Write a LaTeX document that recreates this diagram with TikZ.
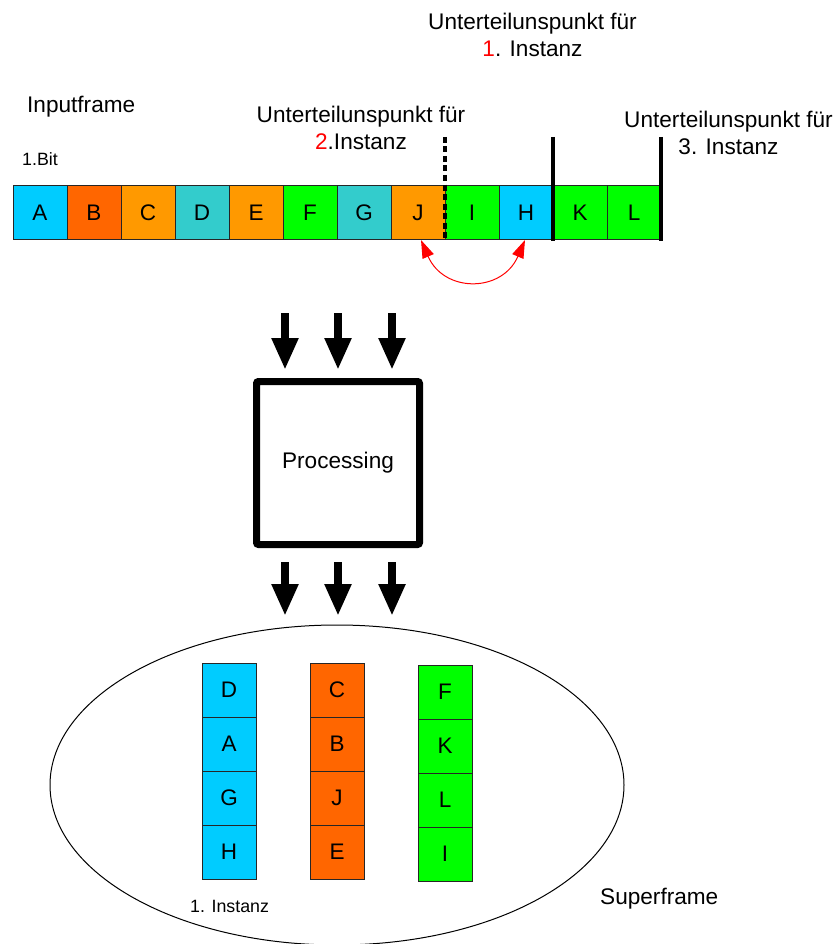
\documentclass[tikz,border=0pt]{standalone}
\usepackage{fontspec}
\setmainfont{Liberation Sans}
\usetikzlibrary{arrows.meta,shapes.geometric}
\definecolor{bitcyan}{HTML}{00CCFF}
\definecolor{bitred}{HTML}{FF6600}
\definecolor{bitorange}{HTML}{FF9900}
\definecolor{bitteal}{HTML}{33CCCC}
\definecolor{bitgreen}{HTML}{00FF00}
\begin{document}
\begin{tikzpicture}[x=1pt,y=-1pt,
  bit/.style={draw=black!85,line width=1pt,minimum width=54pt,minimum height=54pt,inner sep=0pt,font=\fontsize{22.5}{27}\selectfont},
  txt/.style={font=\fontsize{22.6}{27}\selectfont,align=center,inner sep=0pt},
  small/.style={font=\fontsize{17.8}{20}\selectfont,inner sep=0pt},
  cut/.style={line width=3.5pt},
  fat/.style={line width=8pt,-{Triangle[width=25pt,length=32pt]}},
  swaparrow/.style={red,line width=1pt,{Triangle[width=12pt,length=18pt]}-{Triangle[width=12pt,length=18pt]}}]
\useasboundingbox (0,0) rectangle (837,944);
\coordinate (cut1t) at (445,137);
\coordinate (cut1b) at (445,241);
\coordinate (cut2t) at (553,137);
\coordinate (cut2b) at (553,241);
\coordinate (cut3t) at (661,137);
\coordinate (cut3b) at (661,241);
\coordinate (in1) at (285,313);
\coordinate (in2) at (338,313);
\coordinate (in3) at (392,313);
\coordinate (out1) at (285,616);
\coordinate (out2) at (338,616);
\coordinate (out3) at (392,616);
% input frame
\node[bit,fill=bitcyan] (inA) at (40,212.5) {A};
\node[bit,fill=bitred] (inB) at (94,212.5) {B};
\node[bit,fill=bitorange] (inC) at (148,212.5) {C};
\node[bit,fill=bitteal] (inD) at (202,212.5) {D};
\node[bit,fill=bitorange] (inE) at (256,212.5) {E};
\node[bit,fill=bitgreen] (inF) at (310,212.5) {F};
\node[bit,fill=bitteal] (inG) at (364,212.5) {G};
\node[bit,fill=bitorange] (inJ) at (418,212.5) {J};
\node[bit,fill=bitgreen] (inI) at (472,212.5) {I};
\node[bit,fill=bitcyan] (inH) at (526,212.5) {H};
\node[bit,fill=bitgreen] (inK) at (580,212.5) {K};
\node[bit,fill=bitgreen] (inL) at (634,212.5) {L};
\draw[cut,dash pattern=on 6pt off 3.5pt] (cut1t) -- (cut1b);
\draw[cut] (cut2t) -- (cut2b);
\draw[cut] (cut3t) -- (cut3b);
\draw[swaparrow] ([xshift=3pt]inJ.south) .. controls (444,293) and (502,293) .. ([xshift=-1pt]inH.south);
\node[txt,anchor=base west] (inputlbl) at (27,113) {Inputframe};
\node[small,anchor=base west] (bitlbl) at (22,166) {1.Bit};
\node[txt,anchor=south] (cut1lbl) at (532.5,57) {Unterteilunspunkt für\\\textcolor{red}{1}. Instanz};
\node[txt,anchor=south] (cut2lbl) at (361,150) {Unterteilunspunkt für\\\textcolor{red}{2}.Instanz};
\node[txt,anchor=south] (cut3lbl) at (728.5,155) {Unterteilunspunkt für\\3. Instanz};
% processing
\node[draw,line width=7pt,rounded corners=2pt,minimum width=163pt,minimum height=163pt,txt] (proc) at (338,463) {Processing};
\draw[fat,shorten >=8pt] (in1) -- (in1 |- proc.north);
\draw[fat,shorten >=8pt] (in2) -- (in2 |- proc.north);
\draw[fat,shorten >=8pt] (in3) -- (in3 |- proc.north);
\draw[fat,shorten <=14pt] (out1 |- proc.south) -- (out1);
\draw[fat,shorten <=14pt] (out2 |- proc.south) -- (out2);
\draw[fat,shorten <=14pt] (out3 |- proc.south) -- (out3);
% superframe
\node[draw,ellipse,line width=1pt,minimum width=574pt,minimum height=320pt] (super) at (337,785) {};
\node[bit,fill=bitcyan] (s1a) at (229,690) {D};
\node[bit,fill=bitcyan] (s1b) at (229,744) {A};
\node[bit,fill=bitcyan] (s1c) at (229,798) {G};
\node[bit,fill=bitcyan] (s1d) at (229,852) {H};
\node[bit,fill=bitred] (s2a) at (337,690) {C};
\node[bit,fill=bitred] (s2b) at (337,744) {B};
\node[bit,fill=bitred] (s2c) at (337,798) {J};
\node[bit,fill=bitred] (s2d) at (337,852) {E};
\node[bit,fill=bitgreen] (s3a) at (445,692) {F};
\node[bit,fill=bitgreen] (s3b) at (445,746) {K};
\node[bit,fill=bitgreen] (s3c) at (445,800) {L};
\node[bit,fill=bitgreen] (s3d) at (445,854) {I};
\node[small,anchor=base west] (inst1lbl) at (190,912) {1. Instanz};
\node[txt,anchor=base west] (superlbl) at (600,904) {Superframe};
\end{tikzpicture}
\end{document}
